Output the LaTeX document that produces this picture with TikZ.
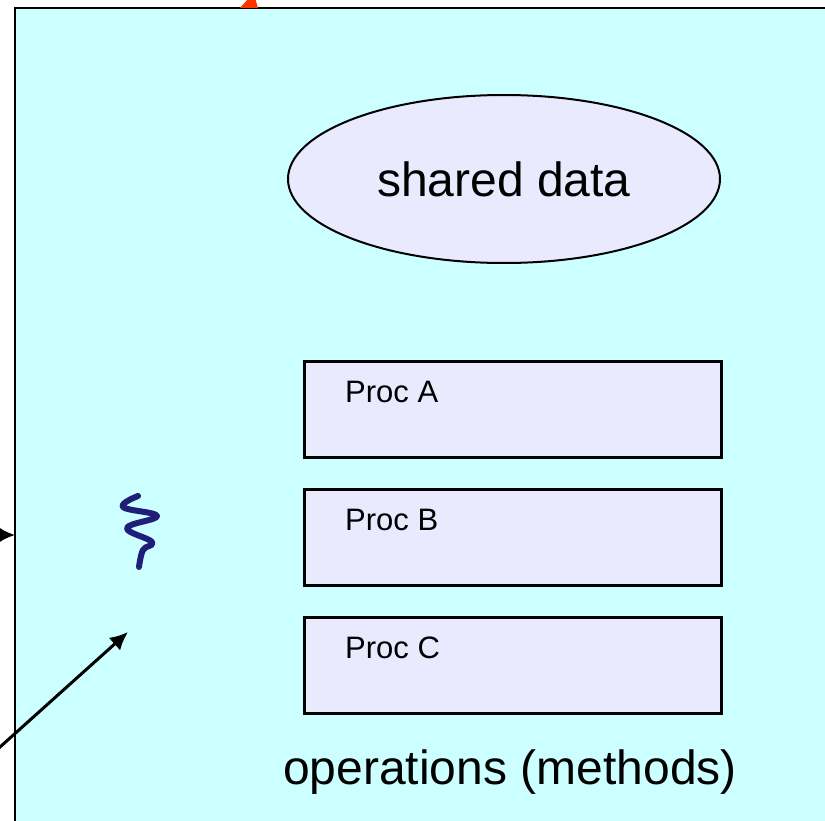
\documentclass[tikz,border=0pt]{standalone}
\usepackage{fontspec}
\setmainfont{Liberation Sans}
\usetikzlibrary{shapes.geometric,arrows.meta}
\definecolor{monbg}{HTML}{CCFFFF}
\definecolor{lavbox}{HTML}{EAEAFF}
\definecolor{navy}{HTML}{1F1F7A}
\definecolor{redtip}{HTML}{FF3300}
\begin{document}
\begin{tikzpicture}[x=1pt,y=-1pt,
  procbox/.style={draw,line width=2.5pt,fill=lavbox,minimum width=417pt,minimum height=96pt,inner sep=0pt},
  proctext/.style={anchor=base west,font=\fontsize{31}{36}\selectfont,inner sep=0pt}]
\useasboundingbox(0,0)rectangle(825,821);
\draw[line width=2.5pt,fill=monbg](15,8)rectangle(840,840);
\node[draw,line width=2pt,ellipse,fill=lavbox,minimum width=432pt,minimum height=168pt,font=\fontsize{48}{56}\selectfont](shared)at(504,179){shared data};
\foreach \n/\y in {A/360,B/488,C/616}{
  \node[procbox,anchor=north west](proc\n)at(303,\y){};
  \node[proctext](lab\n)at(345,\y+42){Proc \n};
}
\node[anchor=base,inner sep=0pt,font=\fontsize{48}{56}\selectfont](ops)at(510,784){operations (methods)};
% thread
\draw[navy,line width=6pt,line cap=round,line join=round]plot[smooth,tension=0.7]coordinates{(138,496)(123,507)(157,516)(127,528)(152,542)(143,550)(139,567)};
% arrows in from outside
\coordinate(inA)at(-20,535);
\coordinate(edgeA)at(15,535);
\draw[-{Latex[length=17pt,width=17pt]},line width=3pt](inA)--(edgeA);
\coordinate(inB)at(-10,756);
\coordinate(tipB)at(128,632);
\draw[-{Latex[length=18pt,width=17pt]},line width=3pt](inB)--(tipB);
\fill[redtip](240,8)--(258,8)--(255,-2)--(249,-2)--cycle;
\end{tikzpicture}
\end{document}
